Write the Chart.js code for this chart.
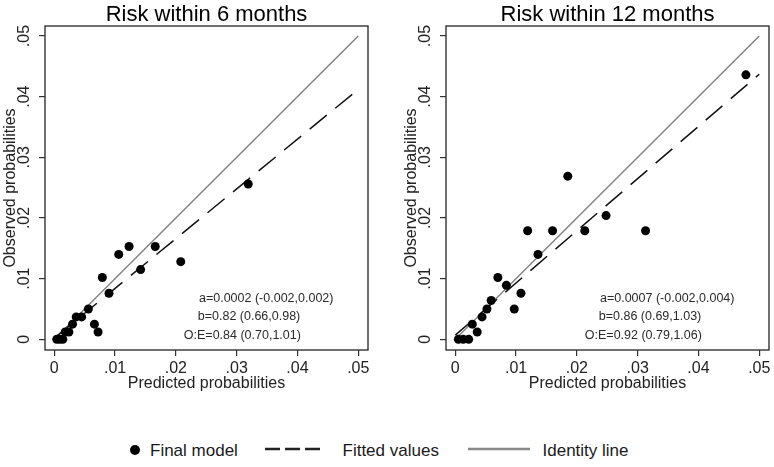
<!DOCTYPE html>
<html><head><meta charset="utf-8">
<script src="https://cdn.jsdelivr.net/npm/chart.js@4/dist/chart.umd.min.js"></script>
<style>
html,body{margin:0;padding:0;background:#fff;width:774px;height:467px;overflow:hidden;}
#wrap{position:relative;width:774px;height:467px;}
canvas{position:absolute;top:0;}
#c6{left:0}
#c12{left:401px}
.lt{position:absolute;font-family:"Liberation Sans",Arial,sans-serif;font-size:17px;line-height:17px;color:#1a1a1a;white-space:nowrap;top:441.7px}
.lm{position:absolute}
</style></head>
<body><div id="wrap">
<canvas id="c6" width="387" height="400"></canvas>
<canvas id="c12" width="373" height="400"></canvas>
<div id="legend"></div>
</div>
<script>
// ---- data ----
const tickValues = [0, 0.01, 0.02, 0.03, 0.04, 0.05];
const tickLabels = ['0', '.01', '.02', '.03', '.04', '.05'];
const titles = ['Risk within 6 months', 'Risk within 12 months'];
const xTitle = 'Predicted probabilities';
const yTitle = 'Observed probabilities';
const seriesNames = ['Final model', 'Fitted values', 'Identity line'];

const pred6 = [0.0004,0.0009,0.0014,0.0018,0.0024,0.0030,0.0036,0.0045,0.0056,0.0066,0.0072,0.0079,0.0090,0.0106,0.0123,0.0142,0.0166,0.0208,0.0319];
const obs6  = [0,0,0,0.0012,0.0012,0.0025,0.0037,0.0037,0.0050,0.0025,0.0012,0.0102,0.0076,0.0140,0.0153,0.0115,0.0153,0.0128,0.0256];

const pred12 = [0.0005,0.0013,0.0022,0.0028,0.0036,0.0044,0.0052,0.0059,0.0070,0.0084,0.0097,0.0108,0.0119,0.0136,0.0160,0.0185,0.0213,0.0248,0.0313,0.0478];
const obs12  = [0,0,0,0.0025,0.0012,0.0037,0.0050,0.0064,0.0102,0.0089,0.0050,0.0076,0.0179,0.0140,0.0179,0.0269,0.0179,0.0204,0.0179,0.0436];

const fitX = [0, 0.05];
const fit6 = [0.0002, 0.0412];
const fit12 = [0.0007, 0.0437];
const identX = [0, 0.05];
const identY = [0, 0.05];

const stats6 = ['a=0.0002 (-0.002,0.002)', 'b=0.82 (0.66,0.98)', 'O:E=0.84 (0.70,1.01)'];
const stats12 = ['a=0.0007 (-0.002,0.004)', 'b=0.86 (0.69,1.03)', 'O:E=0.92 (0.79,1.06)'];

// ---- layout (data-unit anchors for the stats text) ----
const statAnchorX = [0.0238, 0.0236, 0.0213];
const statAnchorY = [0.0068, 0.0037, 0.0007];
const AX_MIN = -0.00153, AX_MAX = 0.0516, AY_MIN = -0.00176, AY_MAX = 0.05165;
const F = '"Liberation Sans", Arial, sans-serif';
const FRAME = '#333';

const pts = (xs, ys) => xs.map((x, i) => ({x, y: ys[i]}));

const framePlugin = {
  id: 'frame',
  afterDraw(chart, args, opts) {
    const {ctx, chartArea: a} = chart;
    ctx.save();
    ctx.strokeStyle = FRAME;
    ctx.lineWidth = 1.4;
    ctx.strokeRect(a.left, a.top, a.right - a.left, a.bottom - a.top);
    ctx.fillStyle = '#000';
    ctx.font = '22px ' + F;
    ctx.textAlign = 'center';
    ctx.textBaseline = 'alphabetic';
    ctx.fillText(opts.title, (a.left + a.right) / 2, 20.5);
    ctx.font = '12.5px ' + F;
    ctx.textAlign = 'left';
    ctx.textBaseline = 'middle';
    ctx.fillStyle = '#2a2a2a';
    opts.stats.forEach((t, i) => {
      ctx.fillText(t, chart.scales.x.getPixelForValue(statAnchorX[i]), chart.scales.y.getPixelForValue(statAnchorY[i]));
    });
    ctx.restore();
  }
};

function zeroPad(s) { s.paddingLeft = 0; s.paddingRight = 0; s.paddingTop = 0; s.paddingBottom = 0; }

function makeChart(id, pred, obs, fit, title, stats, padRight) {
  return new Chart(document.getElementById(id), {
    type: 'scatter',
    data: {
      datasets: [
        {label: seriesNames[0], data: pts(pred, obs), backgroundColor: '#000', borderWidth: 0, pointRadius: 4.5, pointHoverRadius: 4.5},
        {label: seriesNames[1], data: pts(fitX, fit), showLine: true, pointRadius: 0, borderColor: '#111', borderWidth: 1.5, borderDash: [22, 11], fill: false},
        {label: seriesNames[2], data: pts(identX, identY), showLine: true, pointRadius: 0, borderColor: '#808080', borderWidth: 1.4, fill: false}
      ]
    },
    options: {
      responsive: false,
      animation: false,
      devicePixelRatio: 1,
      events: [],
      layout: {padding: {top: 26, left: 0, right: padRight, bottom: 0}},
      plugins: {legend: {display: false}, tooltip: {enabled: false}, frame: {title, stats}},
      scales: {
        x: {
          type: 'linear', min: AX_MIN, max: AX_MAX,
          afterBuildTicks: s => { s.ticks = tickValues.map(v => ({value: v})); },
          afterFit: s => { s.height = 50; zeroPad(s); },
          grid: {drawOnChartArea: false, drawTicks: true, tickLength: 6, color: FRAME, lineWidth: 1.2},
          border: {display: false},
          ticks: {callback: (v, i) => tickLabels[i], font: {size: 16, family: F}, color: '#222', padding: 3, maxRotation: 0, minRotation: 0, autoSkip: false},
          title: {display: true, text: xTitle, font: {size: 16, family: F}, color: '#222', padding: {top: 0, bottom: 7}}
        },
        y: {
          type: 'linear', min: AY_MIN, max: AY_MAX,
          afterBuildTicks: s => { s.ticks = tickValues.map(v => ({value: v})); },
          afterFit: s => { s.width = 45; zeroPad(s); },
          grid: {drawOnChartArea: false, drawTicks: true, tickLength: 6, color: FRAME, lineWidth: 1.2},
          border: {display: false},
          ticks: {callback: (v, i) => tickLabels[i], font: {size: 16, family: F}, color: '#222', padding: 3, minRotation: 90, maxRotation: 90, crossAlign: 'center', autoSkip: false},
          title: {display: true, text: yTitle, font: {size: 16, family: F}, color: '#222', padding: {top: 1, bottom: 0}}
        }
      }
    },
    plugins: [framePlugin]
  });
}

makeChart('c6', pred6, obs6, fit6, titles[0], stats6, 19);
makeChart('c12', pred12, obs12, fit12, titles[1], stats12, 5);

// ---- legend ----
const leg = document.getElementById('legend');
leg.innerHTML =
  '<div class="lm" style="left:130px;top:444.5px;width:10px;height:10px;border-radius:50%;background:#000"></div>' +
  '<div class="lt" style="left:150px">' + seriesNames[0] + '</div>' +
  '<svg class="lm" style="left:265px;top:446px" width="57" height="6"><line x1="0" y1="3" x2="57" y2="3" stroke="#222" stroke-width="2.3" stroke-dasharray="15 5"/></svg>' +
  '<div class="lt" style="left:342.5px">' + seriesNames[1] + '</div>' +
  '<svg class="lm" style="left:467.5px;top:446px" width="62.5" height="6"><line x1="0" y1="3" x2="62.5" y2="3" stroke="#888" stroke-width="2.5"/></svg>' +
  '<div class="lt" style="left:542.5px">' + seriesNames[2] + '</div>';
</script>
</body></html>
